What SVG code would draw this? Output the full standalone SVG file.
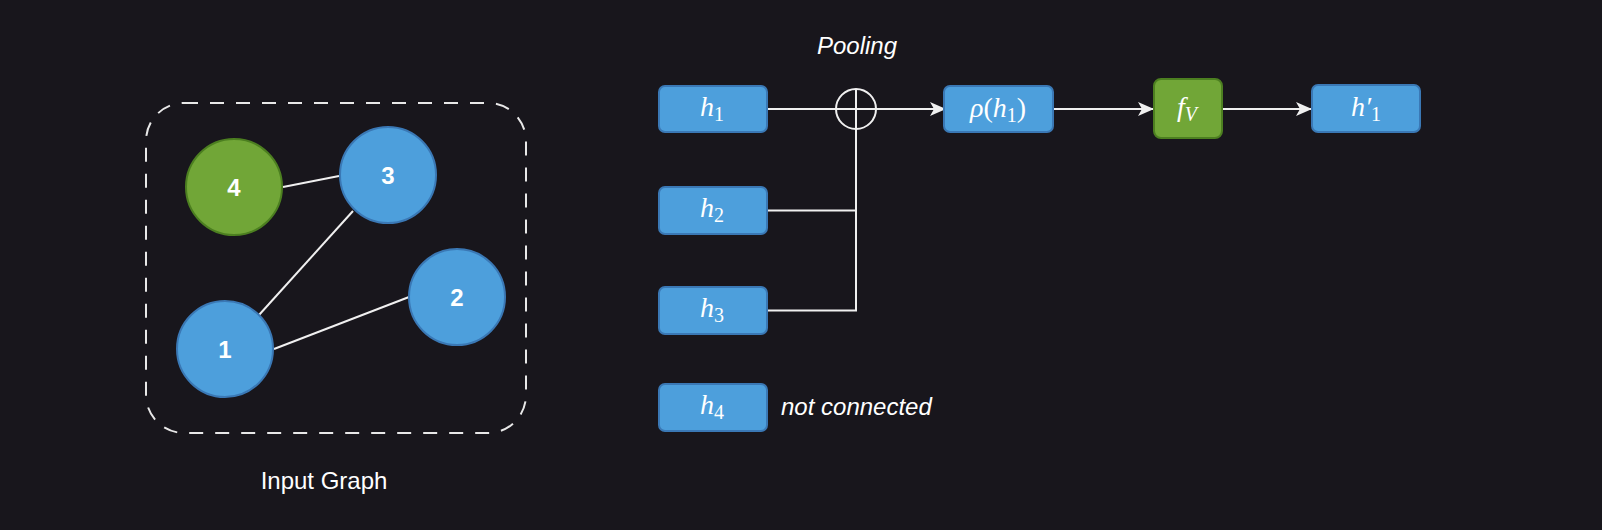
<svg xmlns="http://www.w3.org/2000/svg" width="1602" height="530" viewBox="0 0 1602 530">
<defs>
<style>
.blue{fill:#4d9fdc;stroke:#3a78b5;stroke-width:2}
.green{fill:#71a637;stroke:#4c7f20;stroke-width:2}
.edge{stroke:#f0f0f0;stroke-width:2;fill:none}
.lbl{font-family:"Liberation Sans",Arial,sans-serif;font-size:24px;fill:#ffffff;text-anchor:middle}
.num{font-family:"Liberation Sans",Arial,sans-serif;font-size:24px;font-weight:bold;fill:#ffffff;text-anchor:middle}
.it{font-style:italic}
.math{font-family:"Liberation Serif","Times New Roman",serif;font-size:28px;fill:#ffffff;text-anchor:middle}
.sub{font-size:20px;font-style:normal}
</style>
<marker id="arr" viewBox="0 0 16 16" refX="15" refY="8" markerWidth="16" markerHeight="16" markerUnits="userSpaceOnUse" orient="auto">
<path d="M0,1 L16,8 L0,15 L4,8 Z" fill="#f0f0f0"/>
</marker>
</defs>
<rect width="1602" height="530" fill="#18161c"/>

<g id="input-graph">
<rect x="146" y="103" width="380" height="330" rx="38" ry="38" fill="none" stroke="#e8e8e8" stroke-width="2" stroke-dasharray="14 12"/>
<text class="lbl" x="324" y="489">Input Graph</text>
</g>

<g id="graph-edges">
<line class="edge" x1="283" y1="187" x2="339" y2="176"/>
<line class="edge" x1="353" y1="211" x2="259" y2="315"/>
<line class="edge" x1="274" y1="349" x2="409" y2="297"/>
</g>

<g id="node-4"><circle class="green" cx="234" cy="187" r="48"/><text class="num" x="234" y="196">4</text></g>
<g id="node-3"><circle class="blue" cx="388" cy="175" r="48"/><text class="num" x="388" y="184">3</text></g>
<g id="node-2"><circle class="blue" cx="457" cy="297" r="48"/><text class="num" x="457" y="306">2</text></g>
<g id="node-1"><circle class="blue" cx="225" cy="349" r="48"/><text class="num" x="225" y="358">1</text></g>

<g id="connectors">
<line class="edge" x1="767" y1="109" x2="945" y2="109" marker-end="url(#arr)"/>
<polyline class="edge" points="767,210.5 856,210.5"/>
<polyline class="edge" points="767,310.5 856,310.5 856,129"/>
<line class="edge" x1="1053" y1="109" x2="1153" y2="109" marker-end="url(#arr)"/>
<line class="edge" x1="1222" y1="109" x2="1311" y2="109" marker-end="url(#arr)"/>
</g>

<g id="pooling">
<circle cx="856" cy="109" r="20" fill="none" stroke="#f0f0f0" stroke-width="2"/>
<line class="edge" x1="856" y1="89" x2="856" y2="129"/>
<text class="lbl it" x="857" y="54">Pooling</text>
</g>

<g id="h1"><rect class="blue" x="659" y="86" width="108" height="46" rx="6"/><text class="math" x="712" y="116"><tspan class="it">h</tspan><tspan class="sub" dy="5">1</tspan></text></g>
<g id="h2"><rect class="blue" x="659" y="187" width="108" height="47" rx="6"/><text class="math" x="712" y="217"><tspan class="it">h</tspan><tspan class="sub" dy="5">2</tspan></text></g>
<g id="h3"><rect class="blue" x="659" y="287" width="108" height="47" rx="6"/><text class="math" x="712" y="317"><tspan class="it">h</tspan><tspan class="sub" dy="5">3</tspan></text></g>
<g id="h4"><rect class="blue" x="659" y="384" width="108" height="47" rx="6"/><text class="math" x="712" y="414"><tspan class="it">h</tspan><tspan class="sub" dy="5">4</tspan></text></g>
<text class="lbl it" x="781" y="415" style="text-anchor:start">not connected</text>

<g id="rho"><rect class="blue" x="944" y="86" width="109" height="46" rx="6"/><text class="math" x="998" y="117"><tspan class="it">ρ</tspan>(<tspan class="it">h</tspan><tspan class="sub" dy="5">1</tspan><tspan dy="-5">)</tspan></text></g>

<g id="fV"><rect class="green" x="1154" y="79" width="68" height="59" rx="7"/><text class="math" x="1187" y="116"><tspan class="it">f</tspan><tspan class="sub" dy="5" style="font-style:italic">V</tspan></text></g>

<g id="h1prime"><rect class="blue" x="1312" y="85" width="108" height="47" rx="6"/><text class="math" x="1366" y="116"><tspan class="it">h</tspan><tspan class="it">′</tspan><tspan class="sub" dy="5">1</tspan></text></g>
</svg>
